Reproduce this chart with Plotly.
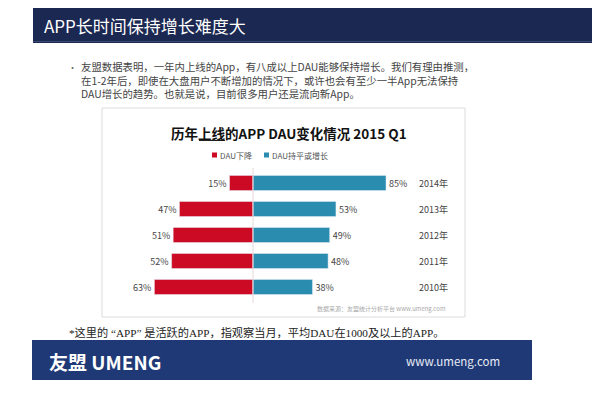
import plotly.graph_objects as go

years = ["2010年", "2011年", "2012年", "2013年", "2014年"]
decline = [63, 52, 51, 47, 15]
growth = [38, 48, 49, 53, 85]

RED = "#cc0a24"
BLUE = "#2a8db0"
FONT = "Noto Sans CJK SC, Noto Sans, sans-serif"

# page body has an 8px margin; the figure fills the rest of the 600x396 window
OFF = 8
W, H = 600 - OFF, 396 - OFF
def px(x):
    return (x - OFF) / W
def py(y):
    return 1 - (y - OFF) / H

fig = go.Figure()
fig.add_trace(go.Bar(
    y=years, x=[-v for v in decline], orientation="h", marker_color=RED,
    text=[f"{v}%" for v in decline], textposition="outside",
    textfont=dict(size=9, color="#444"), cliponaxis=False, name="DAU下降"))
fig.add_trace(go.Bar(
    y=years, x=growth, orientation="h", marker_color=BLUE,
    text=[f"{v}%" for v in growth], textposition="outside",
    textfont=dict(size=9, color="#444"), cliponaxis=False, name="DAU持平或增长"))

shapes = [
    # header bar
    dict(type="rect", xref="paper", yref="paper", x0=px(33), x1=px(600), y0=py(43), y1=py(8),
         fillcolor="#1b2851", line=dict(width=0), layer="below"),
    dict(type="line", xref="paper", yref="paper", x0=px(33), x1=px(600), y0=py(41.5), y1=py(41.5),
         line=dict(color="#3a4a70", width=1)),
    # chart box
    dict(type="rect", xref="paper", yref="paper", x0=px(102), x1=px(465), y0=py(317), y1=py(108),
         fillcolor="white", line=dict(color="#dcdcdc", width=1), layer="below"),
    # zero line
    dict(type="line", xref="x", yref="paper", x0=0, x1=0, y0=py(303), y1=py(168),
         line=dict(color="#e6d6d8", width=1), layer="above"),
    # title underline
    dict(type="line", xref="paper", yref="paper", x0=px(199), x1=px(225), y0=py(140.5), y1=py(140.5),
         line=dict(color="#222", width=1)),
    # legend squares
    dict(type="rect", xref="paper", yref="paper", x0=px(212), x1=px(217), y0=py(157.5), y1=py(152.5),
         fillcolor=RED, line=dict(width=0)),
    dict(type="rect", xref="paper", yref="paper", x0=px(264), x1=px(269), y0=py(157.5), y1=py(152.5),
         fillcolor=BLUE, line=dict(width=0)),
    # footer bar
    dict(type="rect", xref="paper", yref="paper", x0=px(32), x1=px(532), y0=py(380), y1=py(340),
         fillcolor="#1f3977", line=dict(width=0), layer="below"),
]

bullet_lines = [
    "友盟数据表明，一年内上线的App，有八成以上DAU能够保持增长。我们有理由推测，",
    "在1-2年后，即使在大盘用户不断增加的情况下，或许也会有至少一半App无法保持",
    "DAU增长的趋势。也就是说，目前很多用户还是流向新App。",
]

annotations = [
    dict(text="APP长时间保持增长难度大", x=px(42), y=py(25.5), xanchor="left", yanchor="middle",
         font=dict(size=17, color="white", family=FONT)),
    dict(text="•", x=px(66), y=py(67), xanchor="left", yanchor="middle",
         font=dict(size=9, color="#666", family=FONT)),
    dict(text="<br>".join(bullet_lines), x=px(79), y=py(80), xanchor="left", yanchor="middle",
         align="left", font=dict(size=10.4, color="#444", family=FONT)),
    dict(text="<b>历年上线的APP DAU变化情况 2015 Q1</b>", x=px(289), y=py(133), xanchor="center",
         yanchor="middle", font=dict(size=13.5, color="#111", family=FONT)),
    dict(text="DAU下降", x=px(218), y=py(155), xanchor="left", yanchor="middle",
         font=dict(size=8, color="#555", family=FONT)),
    dict(text="DAU持平或增长", x=px(270), y=py(155), xanchor="left", yanchor="middle",
         font=dict(size=8, color="#555", family=FONT)),
    dict(text="数据来源：友盟统计分析平台 www.umeng.com", x=px(448), y=py(308), xanchor="right",
         yanchor="middle", font=dict(size=6, color="#aaa", family=FONT)),
    dict(text="*这里的 “APP” 是活跃的APP，指观察当月，平均DAU在1000及以上的APP。",
         x=px(67), y=py(332), xanchor="left", yanchor="middle",
         font=dict(size=11.2, color="#222", family="Liberation Serif, Noto Sans CJK SC, serif")),
    dict(text="<b>友盟 UMENG</b>", x=px(47), y=py(361), xanchor="left", yanchor="middle",
         font=dict(size=19, color="white", family=FONT)),
    dict(text="www.umeng.com", x=px(502), y=py(361), xanchor="right", yanchor="middle",
         font=dict(size=11.5, color="#e8ecf5", family=FONT)),
]
for yr in years:
    annotations.append(dict(text=yr, xref="paper", yref="y", x=px(433), y=yr, xanchor="center",
                            yanchor="middle", font=dict(size=9, color="#444", family=FONT)))
for a in annotations:
    a.setdefault("xref", "paper")
    a.setdefault("yref", "paper")
    a["showarrow"] = False

x_left, x_right, x0px, scale = 120, 420, 253, 1.565
fig.update_layout(
    width=W, height=H, margin=dict(l=0, r=0, t=0, b=0),
    paper_bgcolor="white", plot_bgcolor="rgba(0,0,0,0)",
    barmode="relative", bargap=0.42,
    font=dict(family=FONT),
    xaxis=dict(domain=[px(x_left), px(x_right)],
               range=[-(x0px - x_left) / scale, (x_right - x0px) / scale],
               visible=False, fixedrange=True),
    yaxis=dict(domain=[py(300), py(170)], visible=False,
               categoryorder="array", categoryarray=years),
    shapes=shapes, annotations=annotations, showlegend=False,
)
fig.write_html("out.html")
